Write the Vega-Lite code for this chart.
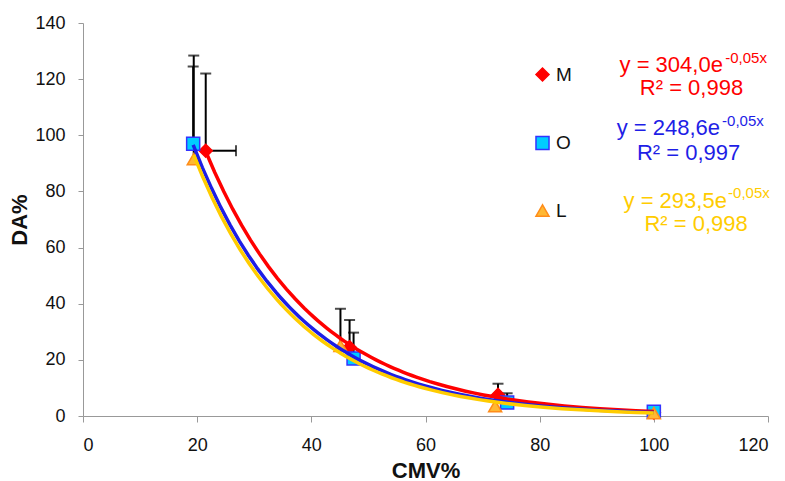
{
  "$schema": "https://vega.github.io/schema/vega-lite/v6.json",
  "width": 685,
  "height": 393,
  "autosize": "none",
  "padding": {"left": 83, "top": 23, "right": 17, "bottom": 65},
  "background": "white",
  "config": {
    "view": {"stroke": null},
    "font": "Liberation Sans",
    "axis": {
      "grid": false,
      "domainColor": "#999999",
      "tickColor": "#999999",
      "tickSize": 5,
      "labelFont": "Liberation Sans",
      "labelFontSize": 18,
      "labelColor": "#111111",
      "titleFont": "Liberation Sans",
      "titleFontSize": 22,
      "titleFontWeight": "bold",
      "titleColor": "#111111"
    }
  },
  "datasets": {
    "pts": [
      {"series": "M", "x": 21.5, "y": 94.5, "yhi": 122, "xhi": 26.8},
      {"series": "M", "x": 46.7, "y": 24.5, "yhi": 34.2, "xhi": null},
      {"series": "M", "x": 72.7, "y": 7.5, "yhi": 11.5, "xhi": null},
      {"series": "M", "x": 100, "y": 1.2, "yhi": null, "xhi": null},
      {"series": "O", "x": 19.3, "y": 97, "yhi": 124.5, "xhi": null},
      {"series": "O", "x": 47.4, "y": 20.5, "yhi": 29.7, "xhi": null},
      {"series": "O", "x": 74.3, "y": 4.8, "yhi": 8.1, "xhi": null},
      {"series": "O", "x": 100, "y": 1.5, "yhi": null, "xhi": null},
      {"series": "L", "x": 19.4, "y": 91.5, "yhi": 128.4, "xhi": null},
      {"series": "L", "x": 45.1, "y": 25, "yhi": 38.2, "xhi": null},
      {"series": "L", "x": 72.2, "y": 3.5, "yhi": null, "xhi": null},
      {"series": "L", "x": 100, "y": 1.0, "yhi": null, "xhi": null}
    ],
    "eqs": [
      {"series": "M", "eq": "y = 304,0e", "sup": "-0,05x", "r2": "R² = 0,998"},
      {"series": "O", "eq": "y = 248,6e", "sup": "-0,05x", "r2": "R² = 0,997"},
      {"series": "L", "eq": "y = 293,5e", "sup": "-0,05x", "r2": "R² = 0,998"}
    ]
  },
  "layer": [
    {
      "data": {"name": "pts"},
      "transform": [{"filter": "datum.yhi != null"}],
      "mark": {"type": "rule", "color": "#000000", "strokeWidth": 2},
      "encoding": {
        "x": {"field": "x", "type": "quantitative", "scale": {"domain": [0, 120], "nice": false}, "axis": {"values": [0, 20, 40, 60, 80, 100, 120], "title": "CMV%", "labelPadding": 14, "titlePadding": 6, "tickSize": 6}},
        "y": {"field": "y", "type": "quantitative", "scale": {"domain": [0, 140], "nice": false}, "axis": {"values": [0, 20, 40, 60, 80, 100, 120, 140], "title": "DA%", "labelPadding": 13, "titlePadding": 3}},
        "y2": {"field": "yhi"}
      }
    },
    {
      "data": {"name": "pts"},
      "transform": [{"filter": "datum.yhi != null"}],
      "mark": {"type": "tick", "orient": "horizontal", "color": "#000000", "size": 11, "thickness": 2},
      "encoding": {
        "x": {"field": "x", "type": "quantitative", "scale": {"domain": [0, 120], "nice": false}},
        "y": {"field": "yhi", "type": "quantitative", "scale": {"domain": [0, 140], "nice": false}}
      }
    },
    {
      "data": {"name": "pts"},
      "transform": [{"filter": "datum.xhi != null"}],
      "mark": {"type": "rule", "color": "#000000", "strokeWidth": 2},
      "encoding": {
        "x": {"field": "x", "type": "quantitative", "scale": {"domain": [0, 120], "nice": false}},
        "x2": {"field": "xhi"},
        "y": {"field": "y", "type": "quantitative", "scale": {"domain": [0, 140], "nice": false}}
      }
    },
    {
      "data": {"name": "pts"},
      "transform": [{"filter": "datum.xhi != null"}],
      "mark": {"type": "tick", "orient": "vertical", "color": "#000000", "size": 11, "thickness": 2},
      "encoding": {
        "x": {"field": "xhi", "type": "quantitative", "scale": {"domain": [0, 120], "nice": false}},
        "y": {"field": "y", "type": "quantitative", "scale": {"domain": [0, 140], "nice": false}}
      }
    },
    {
      "data": {"name": "pts"},
      "mark": {"type": "point", "filled": true, "size": 170, "strokeWidth": 1.5, "opacity": 1},
      "encoding": {
        "x": {"field": "x", "type": "quantitative", "scale": {"domain": [0, 120], "nice": false}},
        "y": {"field": "y", "type": "quantitative", "scale": {"domain": [0, 140], "nice": false}},
        "shape": {"field": "series", "type": "nominal", "scale": {"domain": ["M", "O", "L"], "range": ["diamond", "square", "triangle-up"]},
          "legend": {"orient": "none", "legendX": 450, "legendY": 42, "title": null, "direction": "vertical", "labelFontSize": 19, "labelFont": "Liberation Sans", "labelColor": "#111111", "rowPadding": 47.5, "symbolSize": 170, "symbolStrokeWidth": 1.5, "labelOffset": 4, "padding": 0}},
        "fill": {"field": "series", "type": "nominal", "scale": {"domain": ["M", "O", "L"], "range": ["#FF0000", "#00CCFF", "#FFB833"]}},
        "stroke": {"field": "series", "type": "nominal", "scale": {"domain": ["M", "O", "L"], "range": ["#FF0000", "#3333FF", "#FF8C1A"]}}
      }
    },
    {
      "data": {"name": "pts"},
      "transform": [{"regression": "y", "on": "x", "groupby": ["series"], "method": "exp"}],
      "mark": {"type": "line", "strokeWidth": 3.5},
      "encoding": {
        "x": {"field": "x", "type": "quantitative", "scale": {"domain": [0, 120], "nice": false}},
        "y": {"field": "y", "type": "quantitative", "scale": {"domain": [0, 140], "nice": false}},
        "color": {"field": "series", "type": "nominal", "scale": {"domain": ["L", "O", "M"], "range": ["#FFCC00", "#1E1EE6", "#FF0000"]}, "legend": null},
        "order": {"value": 0}
      }
    },
    {
      "data": {"name": "eqs"},
      "transform": [{"filter": "datum.series == 'M'"}],
      "layer": [
        {"mark": {"type": "text", "align": "right", "baseline": "middle", "fontSize": 22},
         "encoding": {"x": {"datum": 112.1, "type": "quantitative", "scale": {"domain": [0, 120], "nice": false}}, "y": {"datum": 125.0, "type": "quantitative", "scale": {"domain": [0, 140], "nice": false}}, "text": {"field": "eq"}, "color": {"field": "series", "type": "nominal", "legend": null}}},
        {"mark": {"type": "text", "align": "left", "baseline": "middle", "fontSize": 15},
         "encoding": {"x": {"datum": 112.5, "type": "quantitative", "scale": {"domain": [0, 120], "nice": false}}, "y": {"datum": 127.4, "type": "quantitative", "scale": {"domain": [0, 140], "nice": false}}, "text": {"field": "sup"}, "color": {"field": "series", "type": "nominal", "legend": null}}},
        {"mark": {"type": "text", "align": "center", "baseline": "middle", "fontSize": 22},
         "encoding": {"x": {"datum": 106.6, "type": "quantitative", "scale": {"domain": [0, 120], "nice": false}}, "y": {"datum": 116.9, "type": "quantitative", "scale": {"domain": [0, 140], "nice": false}}, "text": {"field": "r2"}, "color": {"field": "series", "type": "nominal", "legend": null}}}
      ]
    },
    {
      "data": {"name": "eqs"},
      "transform": [{"filter": "datum.series == 'O'"}],
      "layer": [
        {"mark": {"type": "text", "align": "right", "baseline": "middle", "fontSize": 22},
         "encoding": {"x": {"datum": 111.6, "type": "quantitative", "scale": {"domain": [0, 120], "nice": false}}, "y": {"datum": 102.6, "type": "quantitative", "scale": {"domain": [0, 140], "nice": false}}, "text": {"field": "eq"}, "color": {"field": "series", "type": "nominal", "legend": null}}},
        {"mark": {"type": "text", "align": "left", "baseline": "middle", "fontSize": 15},
         "encoding": {"x": {"datum": 111.95, "type": "quantitative", "scale": {"domain": [0, 120], "nice": false}}, "y": {"datum": 105.0, "type": "quantitative", "scale": {"domain": [0, 140], "nice": false}}, "text": {"field": "sup"}, "color": {"field": "series", "type": "nominal", "legend": null}}},
        {"mark": {"type": "text", "align": "center", "baseline": "middle", "fontSize": 22},
         "encoding": {"x": {"datum": 106.1, "type": "quantitative", "scale": {"domain": [0, 120], "nice": false}}, "y": {"datum": 93.7, "type": "quantitative", "scale": {"domain": [0, 140], "nice": false}}, "text": {"field": "r2"}, "color": {"field": "series", "type": "nominal", "legend": null}}}
      ]
    },
    {
      "data": {"name": "eqs"},
      "transform": [{"filter": "datum.series == 'L'"}],
      "layer": [
        {"mark": {"type": "text", "align": "right", "baseline": "middle", "fontSize": 22},
         "encoding": {"x": {"datum": 112.8, "type": "quantitative", "scale": {"domain": [0, 120], "nice": false}}, "y": {"datum": 76.6, "type": "quantitative", "scale": {"domain": [0, 140], "nice": false}}, "text": {"field": "eq"}, "color": {"field": "series", "type": "nominal", "legend": null}}},
        {"mark": {"type": "text", "align": "left", "baseline": "middle", "fontSize": 15},
         "encoding": {"x": {"datum": 113.0, "type": "quantitative", "scale": {"domain": [0, 120], "nice": false}}, "y": {"datum": 79.6, "type": "quantitative", "scale": {"domain": [0, 140], "nice": false}}, "text": {"field": "sup"}, "color": {"field": "series", "type": "nominal", "legend": null}}},
        {"mark": {"type": "text", "align": "center", "baseline": "middle", "fontSize": 22},
         "encoding": {"x": {"datum": 107.4, "type": "quantitative", "scale": {"domain": [0, 120], "nice": false}}, "y": {"datum": 68.3, "type": "quantitative", "scale": {"domain": [0, 140], "nice": false}}, "text": {"field": "r2"}, "color": {"field": "series", "type": "nominal", "legend": null}}}
      ]
    }
  ]
}
